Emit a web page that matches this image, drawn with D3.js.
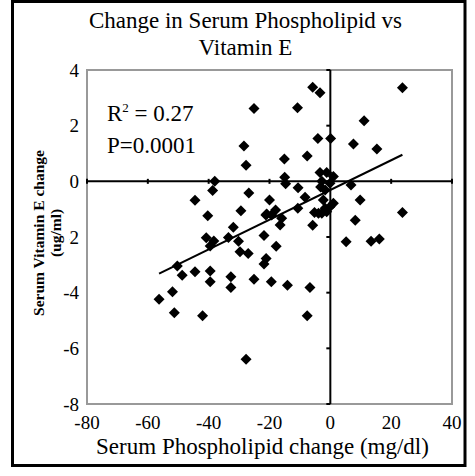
<!DOCTYPE html>
<html>
<head>
<meta charset="utf-8">
<script src="https://cdn.jsdelivr.net/npm/d3@7"></script>
<style>
  html, body { margin: 0; padding: 0; background: #fff; }
  svg { display: block; }
  text { font-family: "Liberation Serif", "Times New Roman", serif; fill: #000; }
</style>
</head>
<body>
<svg id="chart" width="475" height="476"></svg>
<script>
// ---- data ----
const phospholipidChange = [
  -25.1, -28.4, -27.7, -38.0, -38.7, -44.5, -26.8, -29.4, -40.3, -20.0,
  -20.9, -5.8, -3.4, 23.7, -10.8, 11.1, -4.1, 0.1, 7.6, 15.3,
  -15.1, -7.6, -15.0, -14.7, -3.4, -1.2, 1.0, -2.8, -3.2, -0.1,
  -10.6, 6.8, -8.3, 9.8, -10.7, -18.0, -2.3, 1.0, -5.2, -1.2,
  23.7, 8.2, -31.9, -40.8, -38.3, -39.5, -33.5, -30.2, -29.7, -27.0,
  -21.8, -21.1, -21.8, -17.8, -50.3, -48.7, -44.5, -39.5, -39.5, -32.7,
  -32.7, -25.1, -19.4, -51.9, -56.3, -51.3, -42.0, -27.7, -16.5, -5.8,
  5.2, 13.4, 16.1, -14.1, -6.7, -7.6, -1.7, -16.0, -19.3, -3.9,
  -1.7, -0.1, -21.2, -2.8
];
const vitaminEChange = [
  2.62, 1.27, 0.58, 0.0, -0.33, -0.68, -0.42, -1.06, -1.24, -0.67,
  -1.17, 3.38, 3.18, 3.36, 2.64, 2.18, 1.54, 1.54, 1.34, 1.16,
  0.80, 0.91, 0.15, -0.09, 0.32, 0.32, 0.17, 0.0, -0.2, -0.07,
  -0.23, -0.13, -0.57, -0.67, -0.97, -1.03, -0.67, -0.79, -1.12, -1.09,
  -1.12, -1.40, -1.65, -2.03, -2.14, -2.32, -2.02, -2.15, -2.53, -2.59,
  -1.95, -2.77, -2.97, -2.33, -3.04, -3.37, -3.25, -3.22, -3.61, -3.43,
  -3.81, -3.52, -3.61, -3.97, -4.24, -4.72, -4.83, -6.39, -1.57, -1.58,
  -2.17, -2.15, -2.07, -3.73, -3.81, -4.83, -0.31, -1.33, -1.21, -1.15,
  -0.97, -0.91, -1.21, -1.15
];
const xTicks = [-80, -60, -40, -20, 0, 20, 40];
const yTicks = [4, 2, 0, -2, -4, -6, -8];
const trendSlope = 0.0534;
const trendIntercept = -0.31;
const titleLines = ["Change in Serum Phospholipid vs", "Vitamin E"];
const xTitle = "Serum Phospholipid change (mg/dl)";
const yTitleLines = ["Serum Vitamin E change", "(ug/ml)"];
const statR2 = "0.27";
const statP = "P=0.0001";

// ---- layout ----
const svg = d3.select("#chart");
const plot = { left: 87, right: 452, top: 70, bottom: 404 };

const x = d3.scaleLinear().domain([-80, 40]).range([plot.left, plot.right]);
const y = d3.scaleLinear().domain([-8, 4]).range([plot.bottom, plot.top]);

// outer border
svg.append("rect")
  .attr("x", 12.5).attr("y", 1.5).attr("width", 452.5).attr("height", 464)
  .attr("fill", "#fff").attr("stroke", "#000").attr("stroke-width", 3);

// plot area border
svg.append("rect")
  .attr("x", plot.left).attr("y", plot.top)
  .attr("width", plot.right - plot.left).attr("height", plot.bottom - plot.top)
  .attr("fill", "none").attr("stroke", "#999").attr("stroke-width", 2);

// title
svg.append("g").selectAll("text").data(titleLines).join("text")
  .attr("x", 245.5).attr("y", (d, i) => 28 + i * 27)
  .attr("text-anchor", "middle").attr("font-size", 23)
  .text(d => d);

// tick labels: x
svg.append("g").selectAll("text").data(xTicks).join("text")
  .attr("x", d => x(d)).attr("y", 429)
  .attr("text-anchor", "middle").attr("font-size", 19)
  .text(d => d);

// tick labels: y
svg.append("g").selectAll("text").data(yTicks).join("text")
  .attr("x", 79).attr("y", d => y(d) + 6.5)
  .attr("text-anchor", "end").attr("font-size", 19)
  .text(d => d);

// x axis title
svg.append("text")
  .attr("x", 262.5).attr("y", 454)
  .attr("text-anchor", "middle").attr("font-size", 23)
  .text(xTitle);

// y axis title (its white box hides the minus of -2, like the reference)
const yt = svg.append("g").attr("transform", `translate(61, 233) rotate(-90)`);
yt.append("rect").attr("x", -27).attr("y", -13).attr("width", 54).attr("height", 21).attr("fill", "#fff");
yt.selectAll("text").data(yTitleLines.slice().reverse()).join("text")
  .attr("x", 0).attr("y", (d, i) => -i * 17)
  .attr("text-anchor", "middle").attr("font-size", 15.5).attr("font-weight", "bold")
  .text(d => d);

// zero axes crossing through the plot
const x0 = x(0), y0 = y(0);
svg.append("line")
  .attr("x1", plot.left).attr("x2", plot.right).attr("y1", y0).attr("y2", y0)
  .attr("stroke", "#000").attr("stroke-width", 2);
svg.append("line")
  .attr("x1", x0).attr("x2", x0).attr("y1", plot.top).attr("y2", plot.bottom)
  .attr("stroke", "#000").attr("stroke-width", 2);

// tick marks on the zero axes
svg.append("g").selectAll("line").data(xTicks).join("line")
  .attr("x1", d => x(d)).attr("x2", d => x(d))
  .attr("y1", y0 - 2.5).attr("y2", y0 + 2.5)
  .attr("stroke", "#000").attr("stroke-width", 2);
svg.append("g").selectAll("line").data(yTicks).join("line")
  .attr("x1", x0 - 4).attr("x2", x0)
  .attr("y1", d => y(d)).attr("y2", d => y(d))
  .attr("stroke", "#000").attr("stroke-width", 2);

// points
const pts = phospholipidChange.map((v, i) => [v, vitaminEChange[i]]);
const r = 5.5;
svg.append("g").selectAll("path").data(pts).join("path")
  .attr("transform", d => `translate(${x(d[0])},${y(d[1])})`)
  .attr("d", `M0,${-r}L${r},0L0,${r}L${-r},0Z`)
  .attr("fill", "#000");

// trend line
const xe = d3.extent(phospholipidChange);
svg.append("line")
  .attr("x1", x(xe[0])).attr("y1", y(trendSlope * xe[0] + trendIntercept))
  .attr("x2", x(xe[1])).attr("y2", y(trendSlope * xe[1] + trendIntercept))
  .attr("stroke", "#000").attr("stroke-width", 2);

// stats text
const st = svg.append("text").attr("x", 107).attr("y", 121).attr("font-size", 23);
st.append("tspan").text("R");
st.append("tspan").attr("font-size", 13).attr("dy", -9).text("2");
st.append("tspan").attr("dy", 9).text(" = " + statR2);
svg.append("text").attr("x", 107).attr("y", 153).attr("font-size", 23).text(statP);
</script>
</body>
</html>
